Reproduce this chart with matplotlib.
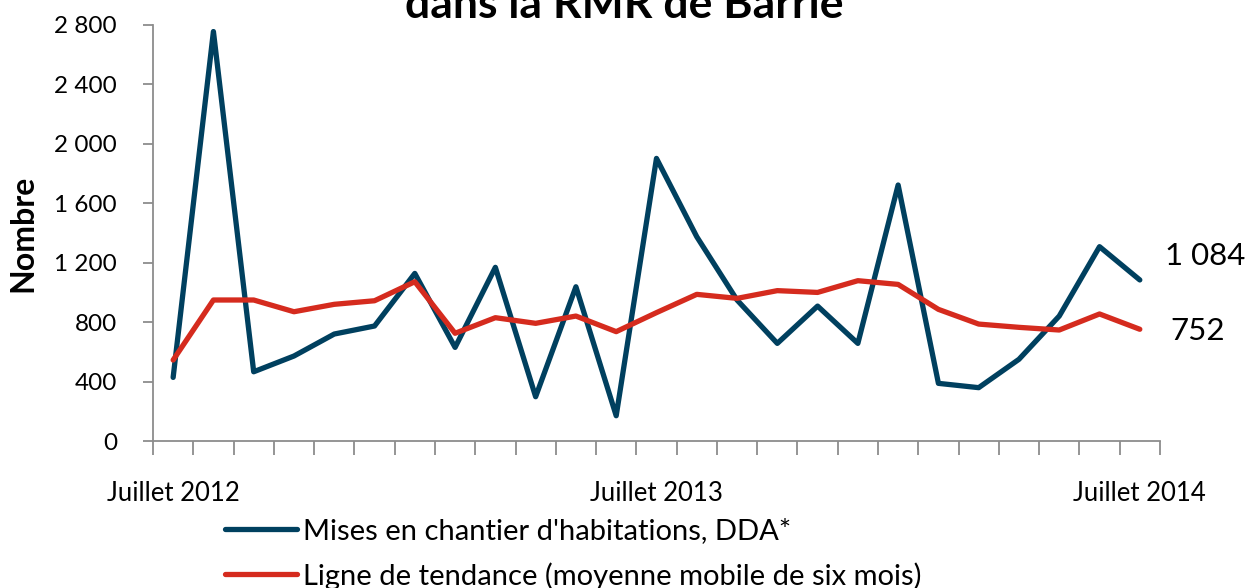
import numpy as np
import matplotlib.pyplot as plt
from matplotlib.ticker import FuncFormatter

plt.rcParams['font.family'] = ['Lato', 'DejaVu Sans']

months = ['Juillet 2012'] + [''] * 11 + ['Juillet 2013'] + [''] * 11 + ['Juillet 2014']
starts = [428, 2756, 466, 572, 720, 774, 1128, 630, 1169, 298, 1038, 170, 1902,
          1375, 949, 657, 908, 657, 1723, 388, 359, 550, 841, 1308, 1084]
trend = [545, 949, 949, 870, 920, 944, 1072, 725, 830, 792, 841, 736, 864,
         987, 960, 1012, 1000, 1079, 1054, 886, 787, 765, 747, 855, 752]
yticks = [0, 400, 800, 1200, 1600, 2000, 2400, 2800]

blue = '#00405f'
red = '#d52b1e'
grey = '#8c8c8c'

fig = plt.figure(figsize=(12.49, 5.88), dpi=100)
ax = fig.add_axes([0.1225, 0.25, 0.8062, 0.7075])

x = np.arange(len(starts))
ax.plot(x, starts, color=blue, lw=3.8, solid_joinstyle='round', solid_capstyle='round',
        label="Mises en chantier d'habitations, DDA*")
ax.plot(x, trend, color=red, lw=3.8, solid_joinstyle='round', solid_capstyle='round',
        label='Ligne de tendance (moyenne mobile de six mois)')

ax.set_xlim(-0.5, len(starts) - 0.5)
ax.set_ylim(0, 2800)
ax.set_yticks(yticks)
ax.yaxis.set_major_formatter(FuncFormatter(lambda v, p: format(int(v), ',').replace(',', ' ')))

lab_idx = [i for i, m in enumerate(months) if m]
ax.set_xticks(lab_idx)
ax.set_xticklabels([months[i] for i in lab_idx])
ax.set_xticks(np.arange(-0.5, len(starts)), minor=True)
ax.tick_params(axis='x', which='major', length=0, pad=29, labelsize=18.5)
ax.tick_params(axis='x', which='minor', length=10, width=1.3, color=grey)
ax.tick_params(axis='y', length=7, width=1.3, color=grey, labelsize=17.5, pad=19)

for s in ['top', 'right']:
    ax.spines[s].set_visible(False)
for s in ['left', 'bottom']:
    ax.spines[s].set_color(grey)
    ax.spines[s].set_linewidth(1.3)

ax.set_ylabel('Nombre', fontsize=23, fontweight='bold')
ax.yaxis.set_label_coords(-0.115, 0.5)

ax.annotate(format(starts[-1], ',').replace(',', ' '), (x[-1], starts[-1]),
            xytext=(18, 17), textcoords='offset points', fontsize=22.5, va='center')
ax.annotate(str(trend[-1]), (x[-1], trend[-1]),
            xytext=(22, -1.5), textcoords='offset points', fontsize=22.5, va='center')

fig.text(0.5, 1 - 18 / 588, "Mises en chantier d'habitations\ndans la RMR de Barrie",
         ha='center', va='baseline', fontsize=32, fontweight='bold')

fig.legend(loc='upper left', bbox_to_anchor=(0.171, 0.138), frameon=False,
           fontsize=21, handlelength=2.45, handletextpad=0.2, labelspacing=0.6,
           borderaxespad=0)

fig.savefig('out.png', dpi=100)
